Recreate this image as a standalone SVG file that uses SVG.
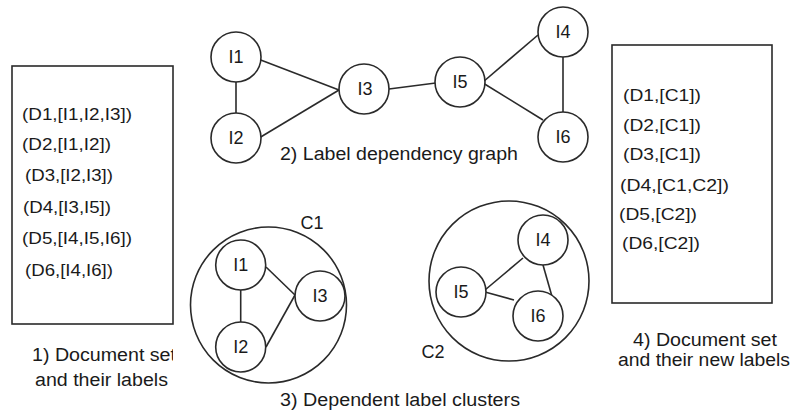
<svg xmlns="http://www.w3.org/2000/svg" width="795" height="419" viewBox="0 0 795 419">
<style>
text{font-family:"Liberation Sans",Arial,sans-serif;fill:#1a1a1a}
.doc{font-size:17px}
.cap{font-size:18px;text-anchor:middle}
.lab{font-size:18px;text-anchor:middle}
.n{fill:#fff;stroke:#2a2a2a;stroke-width:1.6}
.big{fill:none;stroke:#2a2a2a;stroke-width:1.6}
.box{fill:#fff;stroke:#2a2a2a;stroke-width:1.6}
.e{stroke:#2a2a2a;stroke-width:1.6;fill:none}
</style>
<defs>
<clipPath id="clip1"><rect x="0" y="330" width="173" height="40"/></clipPath>
</defs>
<rect width="795" height="419" fill="#fff"/>

<g id="docset">
<rect class="box" x="12" y="66" width="161" height="258"/>
<text class="doc" x="22" y="120" textLength="110" lengthAdjust="spacingAndGlyphs">(D1,[I1,I2,I3])</text>
<text class="doc" x="22" y="150" textLength="89" lengthAdjust="spacingAndGlyphs">(D2,[I1,I2])</text>
<text class="doc" x="25" y="181" textLength="88" lengthAdjust="spacingAndGlyphs">(D3,[I2,I3])</text>
<text class="doc" x="23" y="213" textLength="88" lengthAdjust="spacingAndGlyphs">(D4,[I3,I5])</text>
<text class="doc" x="22" y="244" textLength="110" lengthAdjust="spacingAndGlyphs">(D5,[I4,I5,I6])</text>
<text class="doc" x="25" y="276" textLength="88" lengthAdjust="spacingAndGlyphs">(D6,[I4,I6])</text>
<g clip-path="url(#clip1)">
<text class="cap" x="32" y="361" style="text-anchor:start" textLength="144" lengthAdjust="spacingAndGlyphs">1) Document set</text>
</g>
<text class="cap" x="101.5" y="386" textLength="133" lengthAdjust="spacingAndGlyphs">and their labels</text>
</g>

<g id="newlabels">
<rect class="box" x="612" y="45" width="160" height="258"/>
<text class="doc" x="623" y="101" textLength="78" lengthAdjust="spacingAndGlyphs">(D1,[C1])</text>
<text class="doc" x="623" y="131" textLength="78" lengthAdjust="spacingAndGlyphs">(D2,[C1])</text>
<text class="doc" x="623" y="160" textLength="78" lengthAdjust="spacingAndGlyphs">(D3,[C1])</text>
<text class="doc" x="620" y="191" textLength="109" lengthAdjust="spacingAndGlyphs">(D4,[C1,C2])</text>
<text class="doc" x="619" y="220" textLength="78" lengthAdjust="spacingAndGlyphs">(D5,[C2])</text>
<text class="doc" x="622" y="249" textLength="78" lengthAdjust="spacingAndGlyphs">(D6,[C2])</text>
<text class="cap" x="705" y="346" textLength="144" lengthAdjust="spacingAndGlyphs">4) Document set</text>
<text class="cap" x="704" y="366" textLength="172" lengthAdjust="spacingAndGlyphs">and their new labels</text>
</g>

<g id="connectors">
<line class="e" x1="236" y1="82" x2="236" y2="113"/>
<line class="e" x1="260.7" y1="60" x2="339" y2="90"/>
<line class="e" x1="260.7" y1="137" x2="339" y2="90"/>
<line class="e" x1="389" y1="89" x2="435.7" y2="83"/>
<line class="e" x1="483" y1="82" x2="538" y2="35"/>
<line class="e" x1="483" y1="83" x2="543" y2="120"/>
<line class="e" x1="563" y1="57" x2="563" y2="112"/>

<line class="e" x1="240.7" y1="290" x2="240.7" y2="322"/>
<line class="e" x1="266" y1="267" x2="295" y2="295"/>
<line class="e" x1="266" y1="347" x2="295" y2="295"/>
<line class="e" x1="485" y1="290" x2="523" y2="258"/>
<line class="e" x1="485" y1="292" x2="514" y2="300"/>
<line class="e" x1="543" y1="265" x2="553" y2="300"/>
</g>

<g id="graph">
<g id="g-I1"><circle class="n" cx="236" cy="57" r="25"/><text class="lab" x="236" y="63">I1</text></g>
<g id="g-I2"><circle class="n" cx="236" cy="138" r="25"/><text class="lab" x="236" y="144">I2</text></g>
<g id="g-I3"><circle class="n" cx="364" cy="89" r="25"/><text class="lab" x="365" y="95">I3</text></g>
<g id="g-I5"><circle class="n" cx="460" cy="82" r="25"/><text class="lab" x="460" y="88">I5</text></g>
<g id="g-I4"><circle class="n" cx="563" cy="32" r="25"/><text class="lab" x="563" y="38">I4</text></g>
<g id="g-I6"><circle class="n" cx="563" cy="137" r="25"/><text class="lab" x="563" y="143">I6</text></g>
<text class="cap" x="399" y="160" textLength="238" lengthAdjust="spacingAndGlyphs">2) Label dependency graph</text>
</g>

<g id="C1">
<circle class="big" cx="268.5" cy="305" r="78"/>
<text class="lab" x="312" y="229">C1</text>
<g id="c1-I1"><circle class="n" cx="240.7" cy="265" r="25"/><text class="lab" x="240.7" y="271">I1</text></g>
<g id="c1-I2"><circle class="n" cx="240.7" cy="347" r="25"/><text class="lab" x="240.7" y="353">I2</text></g>
<g id="c1-I3"><circle class="n" cx="320" cy="296" r="25"/><text class="lab" x="320" y="302">I3</text></g>
</g>

<g id="C2">
<circle class="big" cx="509" cy="281" r="80"/>
<text class="lab" x="433" y="358">C2</text>
<g id="c2-I4"><circle class="n" cx="543" cy="240" r="25"/><text class="lab" x="543" y="246">I4</text></g>
<g id="c2-I5"><circle class="n" cx="461" cy="292" r="25"/><text class="lab" x="461" y="298">I5</text></g>
<g id="c2-I6"><circle class="n" cx="538" cy="316" r="25"/><text class="lab" x="538" y="322">I6</text></g>
</g>

<text class="cap" x="400" y="406" textLength="240" lengthAdjust="spacingAndGlyphs">3) Dependent label clusters</text>
</svg>
